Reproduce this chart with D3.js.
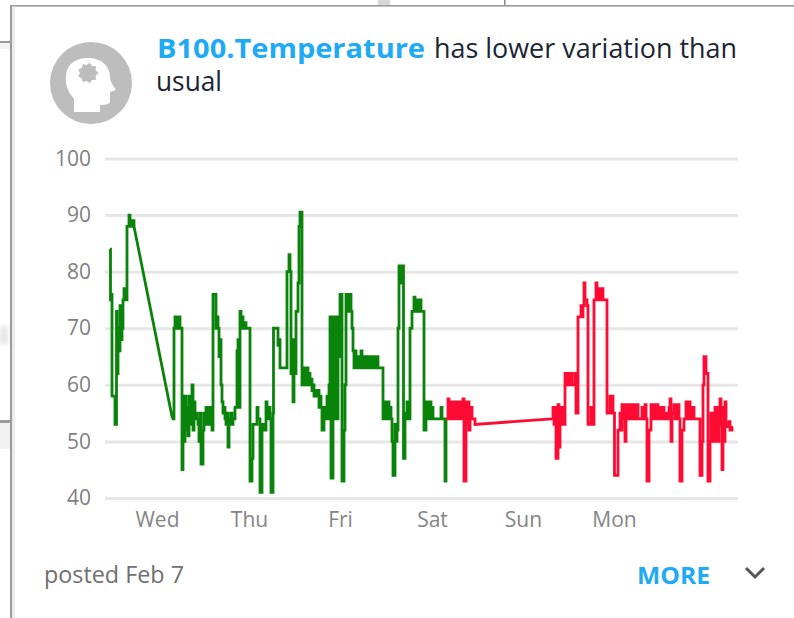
<!DOCTYPE html>
<html><head><meta charset="utf-8">
<script src="https://cdn.jsdelivr.net/npm/d3@7"></script>
<style>
html,body{margin:0;padding:0;background:#fff;overflow:hidden}
svg{display:block}
text{font-family:"Open Sans","Noto Sans",sans-serif}
</style></head><body><div id="c"></div>
<script>
// Readings are [sample index (about 16 minutes each), temperature]
const greenSeries = [[5,84],[5.5,75],[6,76],[7,58],[8,58],[10,53],[11,53],[11.5,73],[12,62],[13,70],[14,66],[15,74],[16,68],[17,73],[17.5,70],[18,75],[19,77],[20,75],[21,75],[22,88],[23,88],[24,90],[25,88],[26,88],[27,89],[29,88],
[67,54.4],[68,54],[69,70],[70,72],[71,70],[72,72],[73,70],[74,72],[75,70],[76,70],[77,45],[78,58],[79,50],[80,58],[81,52],[82,56],[83,51],[84,58],[85,53],[86,56],[87,60],[88,52],[89,57],[90,54],[91,55],[92,54],[93,53],[94,50],[95,55],[96,46],[97,46],[98,52],[99,55],[100,53],[101,56],[102,53],[103,56],[104,53],[105,56],[106,54],[107,52],
[108,76],[110,76],[111,70],[112,72],[113,70],[114,65],[115,68],[116,60],[117,57],[118,55],[119,56],[120,54],[121,53],[122,55],[123,49],[124,54],[125,53],[126,55],[127,53],[128,54],[130,56],[132,66],[133,68],[134,56],[135,73],[136,70],[137,72],[138,70],[140,71],[141,70],[144,70],[145,43],[147,47],[148,53],[150,53],[151,53],[152,56],[153,54],[154,54],[155,41],[156,41],[157,53],[159,52],[161,57],[162,54],[164,56],[165,54],[166,41],[167,41],[168,55],
[168.5,70],[172,70],[173,67],[174,68],[175,63],[181,63],[182,80],[183,80],[184,83],[185,80],[186,62],[187,68],[188,57],[189,68],[190,62],[191,73],[193,78],[194,88],[195,90.5],[196,90.5],[197,60],[198,63],[199,60],[200,63],[201,60],[202,63],[203,60],[204,62],[205,60],[206,61],[207,59],[208,60],[209,58],[210,59],[212,58],[213,59],[214,56],[215,58],[216,56],[217,52],[219,56],[221,54],[222,58],[223,54],[224,60],[225,72],[226,43.5],[227,43.5],[228,72],[229,54],[230,72],[231,70],[232,54],[233,72],[234,65],[235,76],[236,76],[237,43],[238,43],[239,52],[240,60],[241,76],[242,73],[243,76],[244,73],[245,76],[246,73],[247,70],[248,66],[249,63],[250,66],[251,63],[252,65],[253,63],[254,65],[255,63],[256,66],[257,63],[258,65],[259,63],[260,65],[261,63],[262,65],[263,63],[264,65],[265,63],[266,65],[267,63],[268,65],[269,63],[270,65],[271,63],[272,65],[273,63],[275,63],[277,63],
[278,54],[279,57],[280,54],[281,57],[282,54],[283,57],[284,54],[285,56],[286,54],[287,50],[288,44],[289,44],[290,53],[291,50],[292,52],[293,70],[294,81],[295,78],[296,81],[297,78],[298,81],[298.5,47],[299,47],[300,55],[301,54],[302,57],[303,54],[304,54],[305,70],[307,73],[309,75.5],[310,73],[311,73],[312,75],[313,73],[315,75],[316,73],[318,73],[319,52],[320,52],[321,57],[323,54],[325,57],[326,54],[327,56],[328,54],[335,54],[336,56],[337,54],[340,43],[341,54]];
const redSeries = [[341,54],[342,54],[343,57.5],[344,54],[346,57],[347,54],[349,57],[350,54],[352,57],[353,54],[355,57],[356,54],[358,57.5],[359,43],[360,43],[361,57],[362,53],[363,57],[364,52],[365,56],[367,54],[370,53],
[447,54],[448,56],[449,53],[450,56],[451,47],[452,47],[453,56.5],[454,49],[455,56],[457,53],[458,56],[459,53],[460,62],[461,60],[462,62],[463,60],[464,62],[465,60],[466,62],[467,60],[469,60],[470,62],[471,55],[473,72],[475,72],[476,74],[477,72],[478,74],[479,78],[480,75],[482,74],[483,53],[485,53],[486,56],[488,53],[489,75],[491,78],[492,75],[493,77],[495,75],[497,77],[498,75],[501,75],[502,55],[504,55],[505,58],[506,55],[507,58],[508,55],[509.5,44],[510.5,44],[513,52],[515,55],[516,52],[517,56.5],[518,54],[519,56.5],[520,50],[521,54],[522,56.5],[524,54],[526,56.5],[527,54],[529,56.5],[530,54],[532,56.5],[533,54],[535,54],[537,56],[538,54],[540,56.5],[541,54],[542,43],[543,43],[544,52],[546,56.5],[547,54],[549,56.5],[550,54],[552,56.5],[553,54],[555,56],[556,54],[558,56],[559,54],[561,55],[562,54],[564,56],[565,57.5],[566,50],[567,55],[569,56.5],[570,54],[572,56.5],[574,54],[575,43],[576,43],[577,52],[579,54],[581,57],[582,54],[584,57],[585,54],[587,56],[589,54],[591,54],[594,54],[595,44],[596,44],[597,50],[598,60],[599,65],[600,65],[601,62],[602,62],[603,43],[604,43],[605,50],[606,55],[607,50],[608,55],[609,50],[610,56],[611,50],[612,56],[613,50],[614,54],[615,57.5],[616,53],[617,45],[618,56],[619,50],[620,57],[621,53],[622,52.6],[624,53.5],[625,52],[627,52.5],[628,52.5]];
const yTicks = [40,50,60,70,80,90,100];
const dayLabels = ["Wed","Thu","Fri","Sat","Sun","Mon"];
const daySamples = [52,144,235,327,418,509];
const titleKey = "B100.Temperature";
const titleRest = "has lower variation than";
const titleLine2 = "usual";
const postedLabel = "posted Feb 7";
const moreLabel = "MORE";

const W=794,H=618;
const svg=d3.select("#c").append("svg").attr("width",W).attr("height",H);
const x=d3.scaleLinear().domain([0,633]).range([105,738]);
const y=d3.scaleLinear().domain([40,100]).range([498,158.5]);

// surrounding page chrome
svg.append("rect").attr("x",0).attr("y",41).attr("width",10).attr("height",2).attr("fill","#9a9a9a");
svg.append("rect").attr("x",0).attr("y",43).attr("width",10).attr("height",6).attr("fill","#f4f4f4");
svg.append("rect").attr("x",0).attr("y",420).attr("width",10).attr("height",3).attr("fill","#9a9a9a");
svg.append("rect").attr("x",0).attr("y",423).attr("width",10).attr("height",26).attr("fill","#f1f1f1");
svg.append("rect").attr("x",0).attr("y",326).attr("width",8).attr("height",18).attr("fill","#e6e6e6").style("filter","blur(2px)");
svg.append("rect").attr("x",378).attr("y",0).attr("width",12).attr("height",5).attr("fill","#d8d8d8");
svg.append("rect").attr("x",504).attr("y",0).attr("width",1.5).attr("height",5).attr("fill","#8a8a8a");
svg.append("rect").attr("x",10).attr("y",5).attr("width",784).attr("height",1.6).attr("fill","#9b9b9b");
svg.append("rect").attr("x",10).attr("y",5).attr("width",2).attr("height",613).attr("fill","#9b9b9b");
svg.append("rect").attr("x",12).attr("y",6.6).attr("width",3).attr("height",612).attr("fill","#ececec");

// icon
const icon=svg.append("g");
icon.append("circle").attr("cx",91).attr("cy",83).attr("r",41).attr("fill","#bdbdbd");
icon.append("path").attr("fill","#fff").attr("d","M74 112 L74 99 C68 92 65 85 66 76 C67 63 77 58 88 58 C101 58 110 66 110 77 C110 80 111 83 116 90 L110 92 L110 101 C110 104 107 105 100 105 L100 112 Z");
const gear=d3.range(18).map(i=>{const r=i%2?8:10.5,a=i*Math.PI/9;return [88+r*Math.cos(a),73+r*Math.sin(a)];});
icon.append("path").attr("fill","#bdbdbd").attr("d",d3.line()(gear)+"Z");

// title
svg.append("text").attr("x",157).attr("y",58).attr("font-size",27).attr("font-weight",700).attr("fill","#1eaaf5").attr("textLength",268).attr("lengthAdjust","spacingAndGlyphs").text(titleKey);
svg.append("text").attr("x",434).attr("y",58).attr("font-size",27).attr("fill","#1c2433").attr("textLength",303).attr("lengthAdjust","spacingAndGlyphs").text(titleRest);
svg.append("text").attr("x",156).attr("y",91).attr("font-size",27).attr("fill","#1c2433").attr("textLength",66).attr("lengthAdjust","spacingAndGlyphs").text(titleLine2);

// grid + axes
const yAxis=d3.axisLeft(y).tickValues(yTicks).tickSize(-633).tickPadding(14);
const gy=svg.append("g").attr("transform","translate(105,0)").call(yAxis);
gy.select(".domain").remove();
gy.selectAll("line").attr("stroke","#e6e6e6").attr("stroke-width",3);
gy.selectAll("text").attr("font-size",21).attr("fill","#7f7f7f").style("font-family",'"Open Sans",sans-serif');

const xAxis=d3.axisBottom(x).tickValues(daySamples).tickFormat((d,i)=>dayLabels[i]).tickSize(0).tickPadding(14);
const gx=svg.append("g").attr("transform","translate(0,498)").call(xAxis);
gx.select(".domain").remove();
gx.selectAll("text").attr("font-size",21).attr("fill","#858585").style("font-family",'"Open Sans",sans-serif');

// series: readings hold until the next one, except across a long gap, which is bridged straight
const stepped=s=>s.flatMap((d,i)=>{
  if(i===0) return [d];
  const p=s[i-1];
  return d[0]-p[0]<6 ? [[d[0],p[1]],d] : [d];
});
const line=d3.line().x(d=>x(d[0])).y(d=>y(d[1]));
svg.append("path").datum(stepped(greenSeries)).attr("d",line).attr("fill","none").attr("stroke","#0a830a").attr("stroke-width",2.8).style("filter","blur(0.4px)");
svg.append("path").datum(stepped(redSeries)).attr("d",line).attr("fill","none").attr("stroke","#ff0a32").attr("stroke-width",2.8).style("filter","blur(0.4px)");

// footer
svg.append("text").attr("x",44).attr("y",583).attr("font-size",23).attr("fill","#6f6f6f").attr("textLength",140).attr("lengthAdjust","spacingAndGlyphs").text(postedLabel);
svg.append("text").attr("x",637).attr("y",584).attr("font-size",24).attr("font-weight",700).attr("fill","#1eaaf5").attr("textLength",73).attr("lengthAdjust","spacingAndGlyphs").text(moreLabel);
svg.append("path").attr("d","M746 568 L755 577 L764 568").attr("fill","none").attr("stroke","#555").attr("stroke-width",3);
</script></body></html>
